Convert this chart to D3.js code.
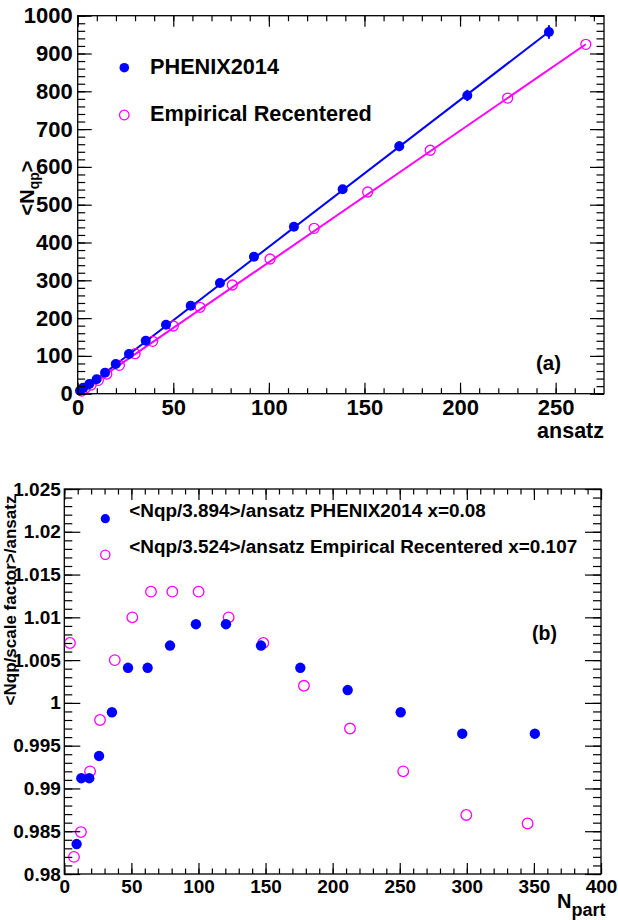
<!DOCTYPE html>
<html>
<head>
<meta charset="utf-8">
<script src="https://cdn.jsdelivr.net/npm/d3@7"></script>
<style>
  body { margin: 0; background: #fff; }
  svg { display: block; }
  text { font-family: "Liberation Sans", Arial, Helvetica, sans-serif; font-weight: bold; fill: #000; }
</style>
</head>
<body>
<svg id="chart" width="618" height="920"></svg>
<script>
// ---- Panel (a): <N_qp> versus ansatz ----
const ansatzPhenix = [246.5, 203.8, 168.2, 138.6, 113.1, 92.2, 74.4, 59.1, 46.2, 35.6, 26.8, 19.9, 14.3, 9.9, 6.1, 2.9, 1.2];
const nqpPhenix    = [957, 789, 654.5, 540.7, 441.8, 362.4, 292.9, 232.9, 182.6, 140.3, 105, 78.6, 55.6, 38, 25.7, 16, 8];
const nqpPhenixErr = [18, 15, 13, 10, 8, 7, 5, 4, 3, 3, 2, 2, 1, 1, 1, 1, 1];
const ansatzEmp    = [265.8, 224.9, 184.4, 151.7, 123.7, 100.6, 80.9, 64, 50, 39.2, 30, 21.8, 15.2, 10.8, 7, 3.8, 2.1];
const nqpEmp       = [924.3, 782, 644, 533.6, 437.5, 356.3, 287.6, 228.6, 179.1, 138.6, 105.8, 75.1, 52, 35.4, 23, 13.7, 7];
// straight-line fits N_qp = slope * ansatz
const fitSlopes    = [3.885, 3.478];
const seriesNames  = ["PHENIX2014", "Empirical Recentered"];
const topXTicks    = [0, 50, 100, 150, 200, 250];
const topYTicks    = [0, 100, 200, 300, 400, 500, 600, 700, 800, 900, 1000];

// ---- Panel (b): scaled ratio versus N_part ----
const npartPhenix  = [9.2, 12.7, 18.6, 25.9, 35.5, 47.5, 62.1, 78.8, 98.1, 120.5, 146.6, 175.9, 211.2, 250.7, 296.6, 350.7];
const ratioPhenix  = [0.9835, 0.9912, 0.9912, 0.9938, 0.9989, 1.0041, 1.0041, 1.0067, 1.0092, 1.0092, 1.0067, 1.0041, 1.0015, 0.9989, 0.9964, 0.9964];
const npartEmp     = [4.2, 7.2, 12.4, 19.2, 26.6, 37.6, 50.7, 64.6, 80.5, 100.1, 122.5, 148.3, 178.6, 212.9, 252.6, 299.6, 345.3];
const ratioEmp     = [1.0070, 0.9820, 0.9849, 0.9920, 0.9980, 1.0050, 1.0100, 1.0130, 1.0130, 1.0130, 1.0100, 1.0070, 1.0020, 0.9970, 0.9920, 0.9869, 0.9859];
const ratioLabels  = ["<Nqp/3.894>/ansatz PHENIX2014 x=0.08", "<Nqp/3.524>/ansatz Empirical Recentered x=0.107"];
const botXTicks    = [0, 50, 100, 150, 200, 250, 300, 350, 400];
const botYTicks    = [0.98, 0.985, 0.99, 0.995, 1, 1.005, 1.01, 1.015, 1.02, 1.025];

const BLUE = "#0000ff", MAGENTA = "#ff00ff";
const svg = d3.select("#chart");

function range(a, b, step) {
  const out = [];
  const n = Math.round((b - a) / step);
  for (let i = 0; i <= n; i++) out.push(+(a + i * step).toFixed(6));
  return out;
}

// Draws a framed panel with inward ticks on all four sides.
function framePanel(g, x, y, opt) {
  const [L, R] = x.range();
  const [B, T] = y.range();
  const xMinor = range(x.domain()[0], opt.xMinorMax, opt.xMinorStep);
  const yMinor = range(y.domain()[0], y.domain()[1], opt.yMinorStep);

  const styleAxis = sel => {
    sel.select(".domain").remove();
    sel.selectAll("line").attr("stroke", "#000").attr("stroke-width", 1.2);
  };

  // bottom
  g.append("g").attr("transform", `translate(0,${B})`)
    .call(d3.axisBottom(x).tickValues(xMinor).tickSize(-opt.xMinorLen).tickFormat(""))
    .call(styleAxis);
  const bx = g.append("g").attr("transform", `translate(0,${B})`)
    .call(d3.axisBottom(x).tickValues(opt.xTicks).tickSize(-opt.xMajorLen).tickPadding(opt.xPad).tickFormat(d3.format("d")))
    .call(styleAxis);
  bx.selectAll("text").style("font-size", opt.tickFont + "px").attr("font-family", null);
  // top
  g.append("g").attr("transform", `translate(0,${T})`)
    .call(d3.axisTop(x).tickValues(xMinor).tickSize(-opt.xMinorLen).tickFormat(""))
    .call(styleAxis);
  g.append("g").attr("transform", `translate(0,${T})`)
    .call(d3.axisTop(x).tickValues(opt.xTicks).tickSize(-opt.xMajorLen).tickFormat(""))
    .call(styleAxis);
  // left
  g.append("g").attr("transform", `translate(${L},0)`)
    .call(d3.axisLeft(y).tickValues(yMinor).tickSize(-opt.yMinorLen).tickFormat(""))
    .call(styleAxis);
  const ly = g.append("g").attr("transform", `translate(${L},0)`)
    .call(d3.axisLeft(y).tickValues(opt.yTicks).tickSize(-opt.yMajorLen).tickPadding(opt.yPad).tickFormat(opt.yFormat))
    .call(styleAxis);
  ly.selectAll("text").style("font-size", opt.tickFont + "px").attr("font-family", null);
  // right
  g.append("g").attr("transform", `translate(${R},0)`)
    .call(d3.axisRight(y).tickValues(yMinor).tickSize(-opt.yMinorLen).tickFormat(""))
    .call(styleAxis);
  g.append("g").attr("transform", `translate(${R},0)`)
    .call(d3.axisRight(y).tickValues(opt.yTicks).tickSize(-opt.yMajorLen).tickFormat(""))
    .call(styleAxis);

  // frame
  g.append("rect")
    .attr("x", L).attr("y", T).attr("width", R - L).attr("height", B - T)
    .attr("fill", "none").attr("stroke", "#000").attr("stroke-width", 1.3);
}

// ================= Panel (a) =================
{
  const x = d3.scaleLinear().domain([0, 275.3]).range([77.7, 604]);
  const y = d3.scaleLinear().domain([0, 1000]).range([393.7, 15.7]);
  const g = svg.append("g");

  // fit lines across each series' range
  const fits = [
    { xs: ansatzPhenix, slope: fitSlopes[0], color: BLUE },
    { xs: ansatzEmp, slope: fitSlopes[1], color: MAGENTA }
  ];
  fits.forEach(f => {
    const [x0, x1] = d3.extent(f.xs);
    g.append("line")
      .attr("x1", x(x0)).attr("y1", y(f.slope * x0))
      .attr("x2", x(x1)).attr("y2", y(f.slope * x1))
      .attr("stroke", f.color).attr("stroke-width", 2);
  });

  // error bars
  g.selectAll(".err").data(ansatzPhenix).join("line")
    .attr("x1", d => x(d)).attr("x2", d => x(d))
    .attr("y1", (d, i) => y(nqpPhenix[i] - nqpPhenixErr[i]))
    .attr("y2", (d, i) => y(nqpPhenix[i] + nqpPhenixErr[i]))
    .attr("stroke", BLUE).attr("stroke-width", 2);

  g.selectAll(".emp").data(ansatzEmp).join("circle")
    .attr("cx", d => x(d)).attr("cy", (d, i) => y(nqpEmp[i])).attr("r", 5)
    .attr("fill", "none").attr("stroke", MAGENTA).attr("stroke-width", 1.3);
  g.selectAll(".phx").data(ansatzPhenix).join("circle")
    .attr("cx", d => x(d)).attr("cy", (d, i) => y(nqpPhenix[i])).attr("r", 5)
    .attr("fill", BLUE);

  framePanel(g, x, y, {
    xTicks: topXTicks, yTicks: topYTicks, xMinorStep: 10, xMinorMax: 270, yMinorStep: 20,
    xMajorLen: 11, xMinorLen: 5.5, yMajorLen: 14, yMinorLen: 7.5,
    xPad: 6, yPad: 5, tickFont: 22, yFormat: d3.format("d")
  });

  // legend
  const lg = g.append("g");
  lg.append("circle").attr("cx", 124.3).attr("cy", 67.7).attr("r", 4.8).attr("fill", BLUE);
  lg.append("circle").attr("cx", 124.3).attr("cy", 115).attr("r", 4.8)
    .attr("fill", "none").attr("stroke", MAGENTA).attr("stroke-width", 1.3);
  lg.append("text").attr("x", 150).attr("y", 74).style("font-size", "21.7px").text(seriesNames[0]);
  lg.append("text").attr("x", 150).attr("y", 120.5).style("font-size", "21.7px").text(seriesNames[1]);

  // titles
  g.append("text").attr("x", 604).attr("y", 437.5).attr("text-anchor", "end")
    .style("font-size", "21.5px").text("ansatz");
  const yt = g.append("text").attr("transform", "translate(34,188) rotate(-90)")
    .attr("text-anchor", "middle").style("font-size", "20px");
  yt.append("tspan").text("<N");
  yt.append("tspan").attr("dy", 5).style("font-size", "14px").text("qp");
  yt.append("tspan").attr("dy", -5).text(">");
  g.append("text").attr("x", 536).attr("y", 370).style("font-size", "20.5px").text("(a)");
}

// ================= Panel (b) =================
{
  const x = d3.scaleLinear().domain([0, 400]).range([64.3, 601]);
  const y = d3.scaleLinear().domain([0.98, 1.025]).range([874, 489]);
  const g = svg.append("g");

  g.selectAll(".emp").data(npartEmp).join("circle")
    .attr("cx", d => x(d)).attr("cy", (d, i) => y(ratioEmp[i])).attr("r", 5.3)
    .attr("fill", "none").attr("stroke", MAGENTA).attr("stroke-width", 1.3);
  g.selectAll(".phx").data(npartPhenix).join("circle")
    .attr("cx", d => x(d)).attr("cy", (d, i) => y(ratioPhenix[i])).attr("r", 5.2)
    .attr("fill", BLUE);

  const fmt = d => (d === 1 ? "1" : d3.format("")(+d.toFixed(3)));
  framePanel(g, x, y, {
    xTicks: botXTicks, yTicks: botYTicks, xMinorStep: 10, xMinorMax: 400, yMinorStep: 0.001,
    xMajorLen: 11, xMinorLen: 5.5, yMajorLen: 16, yMinorLen: 8,
    xPad: 6, yPad: 3.5, tickFont: 19, yFormat: fmt
  });

  // legend
  const lg = g.append("g");
  lg.append("circle").attr("cx", 105.3).attr("cy", 518.7).attr("r", 4.6).attr("fill", BLUE);
  lg.append("circle").attr("cx", 105.3).attr("cy", 554.7).attr("r", 4.6)
    .attr("fill", "none").attr("stroke", MAGENTA).attr("stroke-width", 1.3);
  lg.append("text").attr("x", 129.3).attr("y", 516.7).style("font-size", "18.9px").text(ratioLabels[0]);
  lg.append("text").attr("x", 129.3).attr("y", 553.3).style("font-size", "18.9px").text(ratioLabels[1]);

  // titles
  const xt = g.append("text").attr("x", 557).attr("y", 908).style("font-size", "20px");
  xt.append("tspan").text("N");
  xt.append("tspan").attr("dy", 8).style("font-size", "18px").text("part");
  g.append("text").attr("transform", "translate(15.5,600.5) rotate(-90)")
    .attr("text-anchor", "middle").style("font-size", "17px").text("<Nqp/scale factor>/ansatz");
  g.append("text").attr("x", 532).attr("y", 640).style("font-size", "19.5px").text("(b)");
}
</script>
</body>
</html>
